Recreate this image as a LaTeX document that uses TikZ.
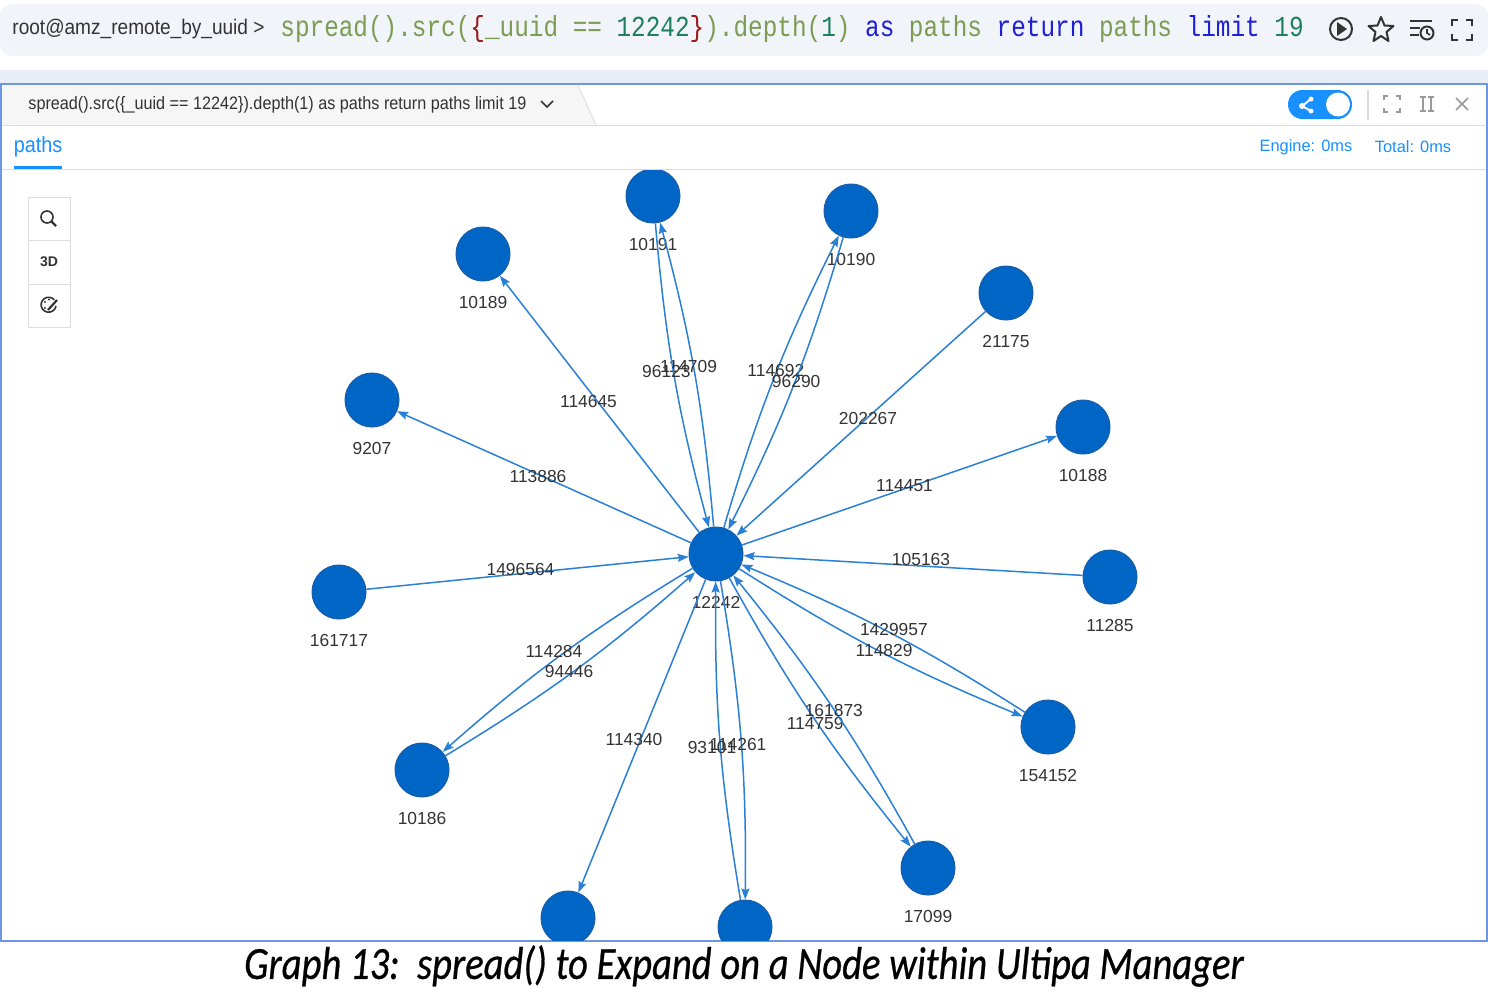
\documentclass[tikz,border=0pt]{standalone}
\usepackage{fontspec}
\setmainfont{Liberation Sans}
\newfontfamily\uisans[FakeStretch=0.9]{Liberation Sans}
\newfontfamily\querymono[FakeStretch=0.84]{Liberation Mono}
\newfontfamily\capfont[FakeStretch=0.84, FakeBold=0.6]{Carlito}
\usetikzlibrary{arrows.meta}

\definecolor{nodeblue}{HTML}{0066C5}
\definecolor{nodeedge}{HTML}{1A5CA8}
\definecolor{edgeblue}{HTML}{2A80D5}
\definecolor{labelgray}{HTML}{333333}
\definecolor{uiblue}{HTML}{1890FF}
\definecolor{panelblue}{HTML}{6E97E3}
\definecolor{barfill}{HTML}{F1F4F8}
\definecolor{bandfill}{HTML}{E8EEF7}
\definecolor{tabfill}{HTML}{F6F6F6}
\definecolor{linegray}{HTML}{DCDCDC}
\definecolor{icongray}{HTML}{9A9A9A}
\definecolor{qolive}{HTML}{7D9B52}
\definecolor{qred}{HTML}{9A1A1A}
\definecolor{qnum}{HTML}{1D7F5C}
\definecolor{qkey}{HTML}{1F1FD6}

\tikzset{
  vertex/.style={circle, fill=nodeblue, draw=nodeedge, line width=0.5pt,
    minimum size=27pt, inner sep=0pt},
  vlabel/.style={text=labelgray, font=\fontsize{8.7}{10}\selectfont, inner sep=1pt, yshift=-6pt},
  elbl/.style={text=labelgray, font=\fontsize{8.7}{10}\selectfont, inner sep=0pt},
  link/.style={draw=edgeblue, line width=0.75pt,
    -{Stealth[length=5.5pt,width=4pt,inset=0.8pt]}},
  iconline/.style={draw=icongray, line width=0.8pt},
}

\begin{document}
\begin{tikzpicture}[x=0.5pt, y=-0.5pt]
  \useasboundingbox (0,0) rectangle (1488,996);

  % Draw the query bar
  \fill[barfill, rounded corners=6pt] (0,4) rectangle (1488,56);
  \node[anchor=west, inner sep=0pt, text=labelgray, font=\uisans\fontsize{10.6}{12}\selectfont]
    (prompt) at (12,29) {root@amz\_remote\_by\_uuid >};
  \node[anchor=west, inner sep=0pt, font=\querymono\fontsize{14.5}{16}\selectfont] (query) at (280,29)
    {\color{qolive}spread().src(\textcolor{qred}{\{}\_uuid == \textcolor{qnum}{12242}\textcolor{qred}{\}}).depth(\textcolor{qnum}{1}) \textcolor{qkey}{as} paths \textcolor{qkey}{return} paths \textcolor{qkey}{limit} \textcolor{qnum}{19}};

  % Draw the icons of the query bar
  \draw[labelgray, line width=1pt] (1341,29) circle (11);
  \fill[labelgray] (1337,22) -- (1347,29) -- (1337,36) -- cycle;
  \draw[labelgray, line width=1pt, line join=round]
    (1381,17) -- (1384.5,25.5) -- (1393.5,26) -- (1386.5,32) -- (1388.5,41) -- (1381,36)
    -- (1373.5,41) -- (1375.5,32) -- (1368.5,26) -- (1377.5,25.5) -- cycle;
  \draw[labelgray, line width=1.2pt] (1410,21) -- (1432,21) (1410,28) -- (1420,28) (1410,35) -- (1419,35);
  \draw[labelgray, line width=1pt] (1427,33) circle (6.5);
  \draw[labelgray, line width=0.8pt] (1427,29) -- (1427,33) -- (1430,35);
  \draw[labelgray, line width=1.2pt]
    (1452,26) -- (1452,20) -- (1458,20) (1466,20) -- (1472,20) -- (1472,26)
    (1452,34) -- (1452,40) -- (1458,40) (1466,40) -- (1472,40) -- (1472,34);

  % Draw the result panel
  \fill[bandfill] (0,70) rectangle (1488,84);
  \fill[white] (1,84) rectangle (1487,941);
  \fill[tabfill] (1,85) -- (578,85) -- (596,125) -- (1,125) -- cycle;
  \draw[linegray] (578,85) -- (596,125);
  \draw[linegray] (1,125) -- (1487,125);
  \draw[linegray] (1,169) -- (1487,169);
  \draw[panelblue, line width=0.8pt] (1,84) rectangle (1487,941);

  \node[anchor=west, inner sep=0pt, text=labelgray, font=\uisans\fontsize{9}{10}\selectfont]
    (tabtext) at (28,105) {spread().src(\{\_uuid == 12242\}).depth(1) as paths return paths limit 19};
  \draw[labelgray, line width=0.8pt] (541,101) -- (547,107) -- (553,101);

  \node[text=uiblue, inner sep=0pt, font=\uisans\fontsize{11}{12}\selectfont] (pathstab) at (38,147) {paths};
  \fill[uiblue] (14,166) rectangle (62,169);
  \node[text=uiblue, inner sep=0pt, font=\fontsize{8.2}{10}\selectfont] (engine) at (1306,147) {Engine: 0ms};
  \node[text=uiblue, inner sep=0pt, font=\fontsize{8.2}{10}\selectfont] (total) at (1413,147) {Total: 0ms};

  % Draw the toggle and the panel icons
  \fill[uiblue, rounded corners=7.2pt] (1288,90) rectangle (1352,119);
  \fill[white] (1338,104.5) circle (12);
  \draw[white, line width=1pt] (1302,106) -- (1311,99) (1302,106) -- (1311,111);
  \fill[white] (1302,106) circle (3) (1311,99) circle (2.5) (1311,111) circle (2.5);
  \draw[linegray, line width=0.8pt] (1368,90) -- (1368,120);
  \draw[iconline]
    (1384,100) -- (1384,96) -- (1388,96) (1396,96) -- (1400,96) -- (1400,100)
    (1384,108) -- (1384,112) -- (1388,112) (1396,112) -- (1400,112) -- (1400,108);
  \draw[iconline] (1420,97) -- (1426,97) (1428,97) -- (1434,97) (1420,111) -- (1426,111) (1428,111) -- (1434,111)
    (1423,97) -- (1423,111) (1431,97) -- (1431,111);
  \draw[iconline] (1456,98) -- (1468,110) (1468,98) -- (1456,110);

  % Draw the left toolbar
  \draw[linegray] (28,197) rectangle (70,327);
  \draw[linegray] (28,240) -- (70,240) (28,284) -- (70,284);
  \draw[labelgray, line width=0.8pt] (47,217) circle (6);
  \draw[labelgray, line width=1.2pt] (51.5,221.5) -- (56,226);
  \node[text=labelgray, inner sep=0pt, font=\bfseries\fontsize{7}{8}\selectfont] (threed) at (49,262) {3D};
  \draw[labelgray, line width=0.8pt] (56,306) arc (10:320:7.5);
  \fill[labelgray] (45,302) circle (1.1) (45,308) circle (1.1) (49,299.5) circle (1.1);
  \draw[labelgray, line width=1.1pt] (48,310) -- (57,300);

  % Draw the graph
  \begin{scope}
    \clip (2,170) rectangle (1486,940);

    \node[vertex, label={[vlabel]below:12242}] (c) at (716,554) {};
    \node[vertex, label={[vlabel]below:10191}] (n10191) at (653,196) {};
    \node[vertex, label={[vlabel]below:10190}] (n10190) at (851,211) {};
    \node[vertex, label={[vlabel]below:10189}] (n10189) at (483,254) {};
    \node[vertex, label={[vlabel]below:21175}] (n21175) at (1006,293) {};
    \node[vertex, label={[vlabel]below:9207}] (n9207) at (372,400) {};
    \node[vertex, label={[vlabel]below:10188}] (n10188) at (1083,427) {};
    \node[vertex, label={[vlabel]below:161717}] (n161717) at (339,592) {};
    \node[vertex, label={[vlabel]below:11285}] (n11285) at (1110,577) {};
    \node[vertex, label={[vlabel]below:154152}] (n154152) at (1048,727) {};
    \node[vertex, label={[vlabel]below:10186}] (n10186) at (422,770) {};
    \node[vertex, label={[vlabel]below:17099}] (n17099) at (928,868) {};
    \node[vertex] (nleft) at (568,918) {};
    \node[vertex] (nright) at (745,927) {};

    % single edges
    \draw[link] (c) -- node[elbl, xshift=-5.5pt, yshift=1pt] {114645} (n10189);
    \draw[link] (c) -- node[elbl, xshift=-3pt] {113886} (n9207);
    \draw[link] (n21175) -- node[elbl, xshift=3.5pt, yshift=2.5pt] {202267} (c);
    \draw[link] (c) -- node[elbl, xshift=2.5pt, yshift=2.5pt] {114451} (n10188);
    \draw[link] (n161717) -- node[elbl, xshift=-3.5pt, yshift=2pt] {1496564} (c);
    \draw[link] (n11285) -- node[elbl, xshift=4pt, yshift=3pt] {105163} (c);
    \draw[link] (c) -- node[elbl, xshift=-4pt, yshift=-1.5pt] {114340} (nleft);

    % pairs of edges
    \draw[link] (c) to[bend right=5] node[elbl, xshift=-3pt, yshift=3.5pt] {114709} (n10191);
    \draw[link] (n10191) to[bend right=5] node[elbl, xshift=-4pt, yshift=2.5pt] {96123} (c);
    \draw[link] (c) to[bend left=5] node[elbl, xshift=1pt, yshift=4pt] {114692} (n10190);
    \draw[link] (n10190) to[bend left=5] node[elbl, xshift=1.5pt, yshift=2.5pt] {96290} (c);
    \draw[link] (c) to[bend right=5] node[elbl, xshift=3.5pt, yshift=-0.5pt] {114829} (n154152);
    \draw[link] (n154152) to[bend right=5] node[elbl, xshift=3.5pt, yshift=1pt] {1429957} (c);
    \draw[link] (c) to[bend right=5] node[elbl, xshift=1pt, yshift=-3.5pt] {114759} (n17099);
    \draw[link] (n17099) to[bend right=5] node[elbl, xshift=1.5pt, yshift=-2.5pt] {161873} (c);
    \draw[link] (c) to[bend left=5] node[elbl, xshift=-1.5pt, yshift=-2.5pt] {114261} (nright);
    \draw[link] (nright) to[bend left=5] node[elbl, xshift=-4pt, yshift=-3pt] {93101} (c);
    \draw[link] (c) to[bend right=5] node[elbl, xshift=-4.5pt, yshift=1pt] {114284} (n10186);
    \draw[link] (n10186) to[bend right=5] node[elbl, xshift=-3pt, yshift=-0.5pt] {94446} (c);
  \end{scope}

  % Draw the caption
  \node[inner sep=0pt, font=\capfont\itshape\fontsize{23}{28}\selectfont] (caption) at (744,966)
    {Graph 13:\ \ spread() to Expand on a Node within Ultipa Manager};
\end{tikzpicture}
\end{document}
